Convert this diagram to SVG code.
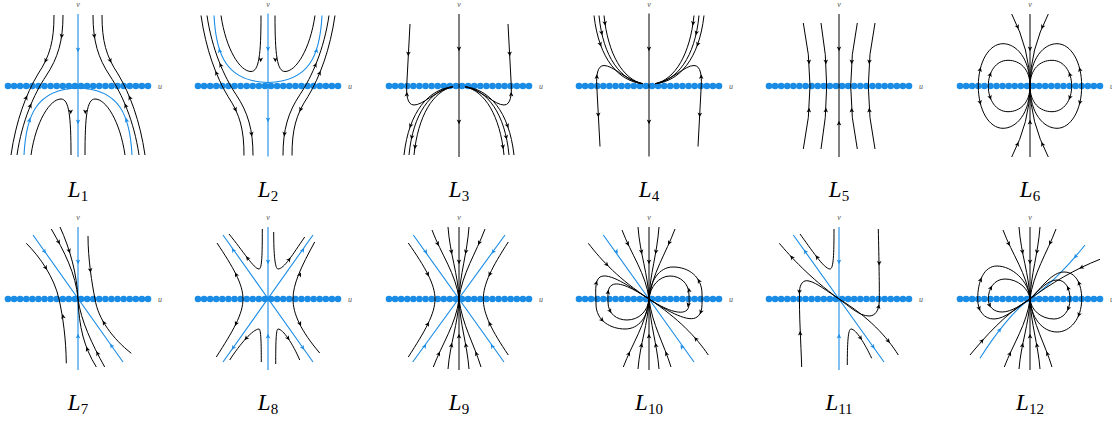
<svg xmlns="http://www.w3.org/2000/svg" width="1112" height="421" viewBox="0 0 1112 421">
<style>
.k{fill:none;stroke:#000;stroke-width:1}
.b{fill:none;stroke:#1a8ce6;stroke-width:1.1}
.ka{fill:#000}
.ba{fill:#1a8ce6}
.d{fill:#1a8ce6}
.lab{font-family:"Liberation Serif",serif;font-size:23px;fill:#000}
.ax{font-family:"Liberation Serif",serif;font-style:italic;font-size:8px;fill:#555}
</style>
<defs>
<path id="ah" d="M2.2,0L-2.4,-2.3L-1.2,0L-2.4,2.3Z"/>
<g id="dots" class="d">
<circle cx="-70" r="3.3"/><circle cx="-63.91" r="3.3"/><circle cx="-57.83" r="3.3"/><circle cx="-51.74" r="3.3"/><circle cx="-45.65" r="3.3"/><circle cx="-39.57" r="3.3"/><circle cx="-33.48" r="3.3"/><circle cx="-27.39" r="3.3"/><circle cx="-21.3" r="3.3"/><circle cx="-15.22" r="3.3"/><circle cx="-9.13" r="3.3"/><circle cx="-3.04" r="3.3"/><circle cx="3.04" r="3.3"/><circle cx="9.13" r="3.3"/><circle cx="15.22" r="3.3"/><circle cx="21.3" r="3.3"/><circle cx="27.39" r="3.3"/><circle cx="33.48" r="3.3"/><circle cx="39.57" r="3.3"/><circle cx="45.65" r="3.3"/><circle cx="51.74" r="3.3"/><circle cx="57.83" r="3.3"/><circle cx="63.91" r="3.3"/><circle cx="70" r="3.3"/>
</g>
<g id="c1">
<path class="b" d="M0,-72V71M-54,69C-52,30 -42,3 0,2C42,3 52,30 54,69"/>
<path class="k" d="M-24,-71C-24,-45 -28,-30 -40,-12C-52,8 -62,35 -67,69M-15,-71C-15,-45 -20,-28 -32,-10C-44,8 -56,35 -61,69M24,-71C24,-45 28,-30 40,-12C52,8 62,35 67,69M15,-71C15,-45 20,-28 32,-10C44,8 56,35 61,69M-47,69C-42,35 -28,13 -17,13C-9,13 -7,30 -7,69M47,69C42,35 28,13 17,13C9,13 7,30 7,69"/>
</g>
<g id="c3">
<path class="k" d="M0,-72V71M-49,-62L-52.3,0C-52.6,8 -52,19 -45,19C-36,19 -25,6 -8,1M49,-62L52.3,0C52.6,8 52,19 45,19C36,19 25,6 8,1M-6,0.8C-30,3 -50,25 -55,69M-6,0.8C-28,4 -46,27 -50,69M-6,0.8C-26,5 -41,30 -45,69M6,0.8C30,3 50,25 55,69M6,0.8C28,4 46,27 50,69M6,0.8C26,5 41,30 45,69"/>
</g>
<g id="fan">
<path class="k" d="M0,-72V71M-27,-69C-18,-45 -3,-25 0,0M-11,-72C-9,-45 -1,-25 0,0M10,-72C8,-45 1,-25 0,0M26,-70C17,-46 3,-25 0,0M-25.7,68C-17,45 -3,25 0,0M-11,70C-9,45 -1,25 0,0M10,70C8,45 1,25 0,0M22,68C15,45 3,25 0,0"/>
<g class="ka">
<use href="#ah" transform="translate(-21.2,-55)rotate(65)"/>
<use href="#ah" transform="translate(-7.5,-47)rotate(79)"/>
<use href="#ah" transform="translate(6.8,-47)rotate(101)"/>
<use href="#ah" transform="translate(20.1,-55.9)rotate(114)"/>
<use href="#ah" transform="translate(-20,54.5)rotate(-65)"/>
<use href="#ah" transform="translate(-7.5,46)rotate(-79)"/>
<use href="#ah" transform="translate(6.8,46)rotate(-101)"/>
<use href="#ah" transform="translate(17.3,54.5)rotate(-111)"/>
<use href="#ah" transform="translate(0,-37)rotate(90)"/>
<use href="#ah" transform="translate(0,37)rotate(-90)"/>
</g>
</g>
</defs>

<!-- Row 1 -->
<g id="L1" transform="translate(78,86)">
<use href="#dots"/>
<use href="#c1"/>
<g class="ba">
<use href="#ah" transform="translate(0,-36)rotate(90)"/>
<use href="#ah" transform="translate(0,36)rotate(90)"/>
<use href="#ah" transform="translate(-48.5,34)rotate(-78)"/>
<use href="#ah" transform="translate(48.5,34)rotate(-102)"/>
</g>
<g class="ka">
<use href="#ah" transform="translate(-16.4,-49.8)rotate(98)"/>
<use href="#ah" transform="translate(16.4,-49.8)rotate(82)"/>
<use href="#ah" transform="translate(-32.4,-25.2)rotate(115)"/>
<use href="#ah" transform="translate(32.4,-25.2)rotate(65)"/>
<use href="#ah" transform="translate(-51.7,11.6)rotate(-66)"/>
<use href="#ah" transform="translate(51.7,11.6)rotate(-114)"/>
<use href="#ah" transform="translate(-47.5,19.6)rotate(-66)"/>
<use href="#ah" transform="translate(47.5,19.6)rotate(-114)"/>
<use href="#ah" transform="translate(-7.3,26)rotate(90)"/>
<use href="#ah" transform="translate(7.3,26)rotate(90)"/>
</g>
<text class="ax" x="80" y="3">u</text>
<text class="ax" x="0" y="-79" text-anchor="middle">v</text>
</g>

<g id="L2" transform="translate(268,86)">
<use href="#dots"/>
<use href="#c1" transform="matrix(1,0,0,-1,0,-1.5)"/>
<g class="ba">
<use href="#ah" transform="translate(0,-37)rotate(90)"/>
<use href="#ah" transform="translate(0,34)rotate(90)"/>
<use href="#ah" transform="translate(-48.5,-35.5)rotate(-102)"/>
<use href="#ah" transform="translate(48.5,-35.5)rotate(-78)"/>
</g>
<g class="ka">
<use href="#ah" transform="translate(-51.7,-13.1)rotate(-114)"/>
<use href="#ah" transform="translate(-47.5,-21.1)rotate(-114)"/>
<use href="#ah" transform="translate(51.7,-13.1)rotate(-66)"/>
<use href="#ah" transform="translate(47.5,-21.1)rotate(-66)"/>
<use href="#ah" transform="translate(-32.4,23.7)rotate(65)"/>
<use href="#ah" transform="translate(-16.4,48.3)rotate(82)"/>
<use href="#ah" transform="translate(32.4,23.7)rotate(115)"/>
<use href="#ah" transform="translate(16.4,48.3)rotate(98)"/>
<use href="#ah" transform="translate(-7.3,-26)rotate(90)"/>
<use href="#ah" transform="translate(7.3,-26)rotate(90)"/>
</g>
<text class="ax" x="80" y="3">u</text>
<text class="ax" x="0" y="-79" text-anchor="middle">v</text>
</g>

<g id="L3" transform="translate(459,86)">
<use href="#dots"/>
<use href="#c3"/>
<g class="ka">
<use href="#ah" transform="translate(0,-37)rotate(90)"/>
<use href="#ah" transform="translate(0,36)rotate(90)"/>
<use href="#ah" transform="translate(-50.7,-32)rotate(93)"/>
<use href="#ah" transform="translate(50.7,-32)rotate(87)"/>
<use href="#ah" transform="translate(-52.2,8)rotate(-90)"/>
<use href="#ah" transform="translate(52.2,8)rotate(-90)"/>
<use href="#ah" transform="translate(-48.6,40)rotate(110)"/>
<use href="#ah" transform="translate(-47.3,51.4)rotate(102)"/>
<use href="#ah" transform="translate(-44,61)rotate(98)"/>
<use href="#ah" transform="translate(48.6,40)rotate(70)"/>
<use href="#ah" transform="translate(47.3,51.4)rotate(78)"/>
<use href="#ah" transform="translate(44,61)rotate(82)"/>
</g>
<text class="ax" x="80" y="3">u</text>
<text class="ax" x="0" y="-79" text-anchor="middle">v</text>
</g>

<g id="L4" transform="translate(649,86)">
<use href="#dots"/>
<use href="#c3" transform="matrix(1,0,0,-1,0,-1.5)"/>
<g class="ka">
<use href="#ah" transform="translate(0,-37)rotate(90)"/>
<use href="#ah" transform="translate(0,36)rotate(90)"/>
<use href="#ah" transform="translate(-50.7,29)rotate(87)"/>
<use href="#ah" transform="translate(50.7,29)rotate(93)"/>
<use href="#ah" transform="translate(-52.2,-9.5)rotate(-90)"/>
<use href="#ah" transform="translate(52.2,-9.5)rotate(-90)"/>
<use href="#ah" transform="translate(-48.6,-41.5)rotate(70)"/>
<use href="#ah" transform="translate(-47.3,-52.9)rotate(78)"/>
<use href="#ah" transform="translate(-44,-62.5)rotate(82)"/>
<use href="#ah" transform="translate(48.6,-41.5)rotate(110)"/>
<use href="#ah" transform="translate(47.3,-52.9)rotate(102)"/>
<use href="#ah" transform="translate(44,-62.5)rotate(98)"/>
</g>
<text class="ax" x="80" y="3">u</text>
<text class="ax" x="0" y="-79" text-anchor="middle">v</text>
</g>

<g id="L5" transform="translate(839,86)">
<use href="#dots"/>
<path class="k" d="M0,-72V71M-35.7,-63Q-22.3,0 -35.7,63M-18,-63Q-6.6,0 -18,63M18.3,-63Q5.1,0 18.3,63M36,-63Q22.6,0 36,63"/>
<g class="ka">
<use href="#ah" transform="translate(0,-37)rotate(90)"/>
<use href="#ah" transform="translate(0,37)rotate(-90)"/>
<use href="#ah" transform="translate(-30,-24)rotate(85)"/>
<use href="#ah" transform="translate(-30,24)rotate(-85)"/>
<use href="#ah" transform="translate(-13.1,-24)rotate(86)"/>
<use href="#ah" transform="translate(-13.1,24)rotate(-86)"/>
<use href="#ah" transform="translate(12.7,-24)rotate(94)"/>
<use href="#ah" transform="translate(12.7,24)rotate(-94)"/>
<use href="#ah" transform="translate(30.3,-24)rotate(95)"/>
<use href="#ah" transform="translate(30.3,24)rotate(-95)"/>
</g>
<text class="ax" x="80" y="3">u</text>
<text class="ax" x="0" y="-79" text-anchor="middle">v</text>
</g>

<g id="L6" transform="translate(1030,86)">
<use href="#dots"/>
<path class="k" d="M0,-72V71M-18.3,-72Q0,-36 0,0M18.3,-72Q0,-36 0,0M-18.3,71Q0,35.5 0,0M18.3,71Q0,35.5 0,0"/>
<path class="k" d="M0,0C0,-28 -14,-42.3 -27,-42.3C-41,-42.3 -51.7,-24 -51.7,0C-51.7,24 -41,42.3 -27,42.3C-14,42.3 0,28 0,0M0,0C0,-28 14,-42.3 27,-42.3C41,-42.3 51.7,-24 51.7,0C51.7,24 41,42.3 27,42.3C14,42.3 0,28 0,0M0,0C0,-17 -10,-25.7 -22,-25.7C-34,-25.7 -41.7,-14 -41.7,0C-41.7,14 -34,25.7 -22,25.7C-10,25.7 0,17 0,0M0,0C0,-17 10,-25.7 22,-25.7C34,-25.7 41.7,-14 41.7,0C41.7,14 34,25.7 22,25.7C10,25.7 0,17 0,0"/>
<g class="ka">
<use href="#ah" transform="translate(0,-37)rotate(90)"/>
<use href="#ah" transform="translate(0,36)rotate(-90)"/>
<use href="#ah" transform="translate(-12.3,-59)rotate(67)"/>
<use href="#ah" transform="translate(12.3,-59)rotate(113)"/>
<use href="#ah" transform="translate(-12.3,58)rotate(-67)"/>
<use href="#ah" transform="translate(12.3,58)rotate(-113)"/>
<use href="#ah" transform="translate(-49.8,-16.7)rotate(-76)"/>
<use href="#ah" transform="translate(-49.8,16.7)rotate(76)"/>
<use href="#ah" transform="translate(49.8,-16.7)rotate(-104)"/>
<use href="#ah" transform="translate(49.8,16.7)rotate(104)"/>
<use href="#ah" transform="translate(-39.7,-11.7)rotate(-70)"/>
<use href="#ah" transform="translate(-39.7,11.7)rotate(70)"/>
<use href="#ah" transform="translate(39.7,-11.7)rotate(-110)"/>
<use href="#ah" transform="translate(39.7,11.7)rotate(110)"/>
</g>
<text class="ax" x="80" y="3">u</text>
<text class="ax" x="0" y="-79" text-anchor="middle">v</text>
</g>

<!-- Row 2 -->
<g id="L7" transform="translate(78,299)">
<use href="#dots"/>
<path class="b" d="M0,-72V71M-45,-64L45,63"/>
<path class="k" d="M-51.7,-55.7C-38,-42 -24,-22 -19,0C-15,18 -12,40 -11.7,64.3M-26.7,-70C-14,-48 -2,-25 0,0M-18,-72C-8,-50 -1,-25 0,0M0,0C1,28 6,48 18.3,68M0,0C3,22 14,45 26.7,68M10,-63C10,-40 14,-15 17,0C20,20 35,40 53.3,54.3"/>
<g class="ba">
<use href="#ah" transform="translate(0,-37)rotate(90)"/>
<use href="#ah" transform="translate(0,37)rotate(-90)"/>
<use href="#ah" transform="translate(-33.3,-47.3)rotate(55)"/>
<use href="#ah" transform="translate(33.3,46.5)rotate(-125)"/>
</g>
<g class="ka">
<use href="#ah" transform="translate(-32.1,-31)rotate(58)"/>
<use href="#ah" transform="translate(-15,17.2)rotate(-99)"/>
<use href="#ah" transform="translate(-19.2,-56.6)rotate(62)"/>
<use href="#ah" transform="translate(-8.7,-47.9)rotate(72)"/>
<use href="#ah" transform="translate(9.1,49.8)rotate(-112)"/>
<use href="#ah" transform="translate(19.4,54.2)rotate(-117)"/>
<use href="#ah" transform="translate(12.4,-28.5)rotate(83)"/>
<use href="#ah" transform="translate(25.8,23.6)rotate(-120)"/>
</g>
<text class="ax" x="80" y="3">u</text>
<text class="ax" x="0" y="-79" text-anchor="middle">v</text>
</g>

<g id="L8" transform="translate(268,299)">
<use href="#dots"/>
<path class="b" d="M0,-72V71M-45,-64L45,63M45,-64L-45,63"/>
<path class="k" d="M-39,-65C-25,-48 -14,-30 -9,-30C-6,-30 -5.7,-45 -5.7,-70M5.7,-67C5.7,-45 7,-30 10,-30C16,-30 25,-45 36.7,-62M-51,-56C-35,-32 -25,-15 -25,0C-25,15 -35,32 -51.7,58M46.7,-57C33,-32 25,-15 25,0C25,15 33,32 51.7,54M-38.3,61C-28,45 -15,30 -9,30C-7,30 -6.7,45 -6.7,63M7.7,65C7.7,45 8,30 10,30C15,30 25,45 31.7,61"/>
<g class="ba">
<use href="#ah" transform="translate(0,-37)rotate(90)"/>
<use href="#ah" transform="translate(0,37)rotate(-90)"/>
<use href="#ah" transform="translate(-35,-49)rotate(-125)"/>
<use href="#ah" transform="translate(35,-49)rotate(-55)"/>
<use href="#ah" transform="translate(-35,49)rotate(125)"/>
<use href="#ah" transform="translate(35,49)rotate(55)"/>
</g>
<g class="ka">
<use href="#ah" transform="translate(-20.6,-41.1)rotate(-128)"/>
<use href="#ah" transform="translate(21.2,-39.6)rotate(-53)"/>
<use href="#ah" transform="translate(-32,-24.6)rotate(-116)"/>
<use href="#ah" transform="translate(-32.1,24.9)rotate(116)"/>
<use href="#ah" transform="translate(32,-24.6)rotate(-64)"/>
<use href="#ah" transform="translate(32.1,24.9)rotate(64)"/>
<use href="#ah" transform="translate(-22,39.5)rotate(133)"/>
<use href="#ah" transform="translate(20.2,39.5)rotate(55)"/>
</g>
<text class="ax" x="80" y="3">u</text>
<text class="ax" x="0" y="-79" text-anchor="middle">v</text>
</g>

<g id="L9" transform="translate(459,299)">
<use href="#dots"/>
<path class="b" d="M-45.7,-64L45,63M46,-64L-46.3,63"/>
<use href="#fan"/>
<path class="k" d="M-50.7,-56C-34,-32 -24,-15 -24,0C-24,15 -34,32 -50.7,58M49.3,-57C33,-32 24.3,-15 24.3,0C24.3,15 33,32 49.3,56"/>
<g class="ba">
<use href="#ah" transform="translate(-33,-47)rotate(55)"/>
<use href="#ah" transform="translate(34,-47)rotate(125)"/>
<use href="#ah" transform="translate(-34,47)rotate(-55)"/>
<use href="#ah" transform="translate(33,47)rotate(-125)"/>
</g>
<g class="ka">
<use href="#ah" transform="translate(-31.1,-24.6)rotate(64)"/>
<use href="#ah" transform="translate(-31.1,24.9)rotate(-64)"/>
<use href="#ah" transform="translate(30.6,-24.6)rotate(116)"/>
<use href="#ah" transform="translate(30.6,24.6)rotate(-116)"/>
</g>
<text class="ax" x="80" y="3">u</text>
<text class="ax" x="0" y="-79" text-anchor="middle">v</text>
</g>

<g id="L10" transform="translate(649,299)">
<use href="#dots"/>
<path class="b" d="M-45.7,-64L45,63"/>
<use href="#fan"/>
<path class="k" d="M-60.7,-55.7C-47,-38 -30,-20 0,0M0,0C30,20 47,38 59.3,56"/>
<path class="k" d="M0,0C-20,-13 -40,-27 -49,-22C-55,-18 -53,-5 -53,5C-53,22 -38,30 -24,30C-10,30 -1,18 0,0M0,0C-15,-10 -30,-18 -37,-14C-42,-11 -41,-4 -41,3C-41,15 -32,21 -22,21C-10,21 -1,12 0,0M0,0C20,13 40,24 48,18C54,14 53,5 53,-5C53,-22 40,-32 24,-32C10,-32 1,-18 0,0M0,0C15,10 32,17 38,11C41,8 40,2 40,-4C40,-16 31,-23 21,-23C10,-23 1,-12 0,0"/>
<g class="ba">
<use href="#ah" transform="translate(-32.3,-47.3)rotate(55)"/>
<use href="#ah" transform="translate(32.7,47.7)rotate(-125)"/>
</g>
<g class="ka">
<use href="#ah" transform="translate(-42,-34.2)rotate(45)"/>
<use href="#ah" transform="translate(46.7,39.8)rotate(-131)"/>
<use href="#ah" transform="translate(-52.6,-16.2)rotate(-76)"/>
<use href="#ah" transform="translate(-46.8,21.1)rotate(47)"/>
<use href="#ah" transform="translate(-40.9,-7)rotate(-83)"/>
<use href="#ah" transform="translate(-38.8,12.2)rotate(61)"/>
<use href="#ah" transform="translate(51.7,13.2)rotate(111)"/>
<use href="#ah" transform="translate(49.8,-18.3)rotate(-119)"/>
<use href="#ah" transform="translate(40,-9)rotate(-97)"/>
<use href="#ah" transform="translate(39.2,6)rotate(105)"/>
</g>
<text class="ax" x="80" y="3">u</text>
<text class="ax" x="0" y="-79" text-anchor="middle">v</text>
</g>

<g id="L11" transform="translate(839,299)">
<use href="#dots"/>
<path class="b" d="M0,-72V71M-45.7,-64L45,63"/>
<path class="k" d="M-39,-65C-28,-50 -15,-30 -9,-30C-5.5,-30 -5,-45 -5,-70M-59.7,-55.7C-48,-42 -30,-22 0,0M0,0C30,18 48,38 59.3,56M0,0C-12,-8 -22,-16 -30,-18C-36,-19.5 -39,-15 -39.5,-8C-40,15 -38,45 -37.3,68M39.3,-70C40,-40 40.5,-10 40.3,2C40,12 36,17 30,17C20,17 10,7 0,0M8.3,66C8.3,45 9,30 12,30C17,30 26,45 32.7,59.3"/>
<g class="ba">
<use href="#ah" transform="translate(0,-37)rotate(90)"/>
<use href="#ah" transform="translate(0,37)rotate(-90)"/>
<use href="#ah" transform="translate(-34,-47.6)rotate(-125)"/>
<use href="#ah" transform="translate(34.3,48)rotate(55)"/>
</g>
<g class="ka">
<use href="#ah" transform="translate(-22.1,-41.9)rotate(-128)"/>
<use href="#ah" transform="translate(-47.3,-41.8)rotate(-133)"/>
<use href="#ah" transform="translate(49.5,42.2)rotate(51)"/>
<use href="#ah" transform="translate(-39.6,-7)rotate(92)"/>
<use href="#ah" transform="translate(-38.8,34)rotate(-90)"/>
<use href="#ah" transform="translate(40.2,-35.7)rotate(90)"/>
<use href="#ah" transform="translate(39.7,7.4)rotate(-78)"/>
<use href="#ah" transform="translate(21.7,39.3)rotate(56)"/>
</g>
<text class="ax" x="80" y="3">u</text>
<text class="ax" x="0" y="-79" text-anchor="middle">v</text>
</g>

<g id="L12" transform="translate(1030,299)">
<use href="#dots"/>
<use href="#fan"/>
<path class="b" d="M-50,59.3C-35,35 -15,10 0,0C18,-12 40,-35 55,-54"/>
<path class="k" d="M-60,56C-45,38 -25,15 0,0M70,-39.7C45,-30 20,-15 0,0"/>
<path class="k" d="M0,0C-1,-18 -18,-33 -33,-33C-46,-33 -52.3,-18 -52.3,0C-52.3,12 -46,20 -36,20C-25,20 -12,8 0,0M0,0C-1,-10 -12,-20 -25,-20C-36,-20 -41.7,-10 -41.7,0C-41.7,8 -36,13 -28,13C-18,13 -8,5 0,0M0,0C12,-12 22,-27 34,-27C46,-27 51.7,-15 51.7,0C51.7,20 40,33 27,33C12,33 1,18 0,0M0,0C10,-10 18,-19 27,-19C36,-19 40,-10 40,0C40,12 33,20 24,20C11,20 1,11 0,0"/>
<g class="ba">
<use href="#ah" transform="translate(-30.2,30.8)rotate(-52)"/>
<use href="#ah" transform="translate(45.3,-42.2)rotate(131)"/>
</g>
<g class="ka">
<use href="#ah" transform="translate(-47.8,41.7)rotate(-48)"/>
<use href="#ah" transform="translate(51.3,-31.5)rotate(154)"/>
<use href="#ah" transform="translate(-49.2,-19.4)rotate(-70)"/>
<use href="#ah" transform="translate(-50.7,9.6)rotate(69)"/>
<use href="#ah" transform="translate(-39,-11.4)rotate(-62)"/>
<use href="#ah" transform="translate(-40.3,6.4)rotate(65)"/>
<use href="#ah" transform="translate(48.9,-16)rotate(-112)"/>
<use href="#ah" transform="translate(48.8,15.9)rotate(112)"/>
<use href="#ah" transform="translate(38,-11)rotate(-113)"/>
<use href="#ah" transform="translate(38.2,9.6)rotate(110)"/>
</g>
<text class="ax" x="80" y="3">u</text>
<text class="ax" x="0" y="-79" text-anchor="middle">v</text>
</g>

<!-- Labels -->
<g id="labels" class="lab" text-anchor="middle">
<text x="78" y="197"><tspan font-style="italic">L</tspan><tspan font-size="15" dy="4">1</tspan></text>
<text x="268" y="197"><tspan font-style="italic">L</tspan><tspan font-size="15" dy="4">2</tspan></text>
<text x="459" y="197"><tspan font-style="italic">L</tspan><tspan font-size="15" dy="4">3</tspan></text>
<text x="649" y="197"><tspan font-style="italic">L</tspan><tspan font-size="15" dy="4">4</tspan></text>
<text x="839" y="197"><tspan font-style="italic">L</tspan><tspan font-size="15" dy="4">5</tspan></text>
<text x="1030" y="197"><tspan font-style="italic">L</tspan><tspan font-size="15" dy="4">6</tspan></text>
<text x="78" y="410"><tspan font-style="italic">L</tspan><tspan font-size="15" dy="4">7</tspan></text>
<text x="268" y="410"><tspan font-style="italic">L</tspan><tspan font-size="15" dy="4">8</tspan></text>
<text x="459" y="410"><tspan font-style="italic">L</tspan><tspan font-size="15" dy="4">9</tspan></text>
<text x="649" y="410"><tspan font-style="italic">L</tspan><tspan font-size="15" dy="4">10</tspan></text>
<text x="839" y="410"><tspan font-style="italic">L</tspan><tspan font-size="15" dy="4">11</tspan></text>
<text x="1030" y="410"><tspan font-style="italic">L</tspan><tspan font-size="15" dy="4">12</tspan></text>
</g>
</svg>
